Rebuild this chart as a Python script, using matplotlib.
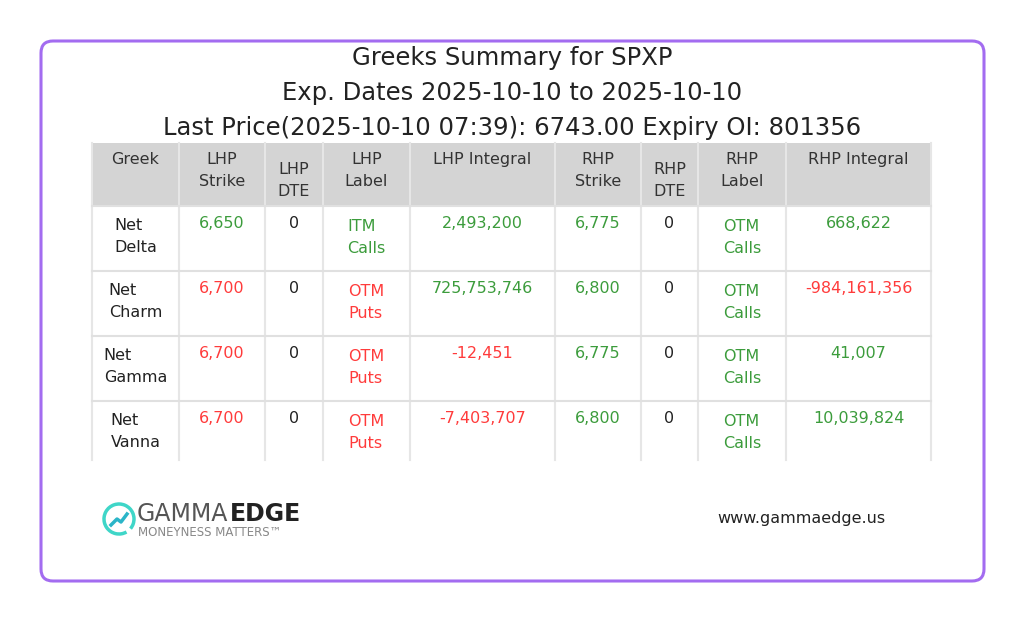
import matplotlib
matplotlib.use("Agg")
import matplotlib.pyplot as plt
from matplotlib.patches import FancyBboxPatch, Rectangle, Arc

title_lines = ["Greeks Summary for SPXP", "Exp. Dates 2025-10-10 to 2025-10-10",
               "Last Price(2025-10-10 07:39): 6743.00 Expiry OI: 801356"]
headers = ["Greek", "LHP\nStrike", "LHP\nDTE", "LHP\nLabel", "LHP Integral",
           "RHP\nStrike", "RHP\nDTE", "RHP\nLabel", "RHP Integral"]
greeks = ["Net\nDelta", "Net\nCharm", "Net\nGamma", "Net\nVanna"]
lhp_strike = ["6,650", "6,700", "6,700", "6,700"]
lhp_dte = ["0", "0", "0", "0"]
lhp_label = ["ITM\nCalls", "OTM\nPuts", "OTM\nPuts", "OTM\nPuts"]
lhp_integral = ["2,493,200", "725,753,746", "-12,451", "-7,403,707"]
rhp_strike = ["6,775", "6,800", "6,775", "6,800"]
rhp_dte = ["0", "0", "0", "0"]
rhp_label = ["OTM\nCalls", "OTM\nCalls", "OTM\nCalls", "OTM\nCalls"]
rhp_integral = ["668,622", "-984,161,356", "41,007", "10,039,824"]
lhp_col = ["g", "r", "r", "r"]
lhp_int_col = ["g", "g", "r", "r"]
rhp_int_col = ["g", "r", "g", "g"]

GREEN = "#3c9c3c"; RED = "#ff3b3b"; BLACK = "#222222"
cmap = {"g": GREEN, "r": RED}

fig = plt.figure(figsize=(10.24, 6.21), dpi=100)
ax = fig.add_axes([0, 0, 1, 1])
ax.set_xlim(0, 1024); ax.set_ylim(621, 0); ax.axis("off")

ax.add_patch(FancyBboxPatch((41, 41), 943, 540, boxstyle="round,pad=0,rounding_size=12",
                            fc="white", ec="#a36cf0", lw=2.2))
for i, t in enumerate(title_lines):
    ax.text(512, 58 + 35 * i, t, ha="center", va="center", fontsize=17.5, color=BLACK)

xs = [92, 179, 265, 323, 410, 555, 641, 698, 786, 931]
ys = [143, 206, 271, 336, 401, 460]
ax.add_patch(Rectangle((xs[0], ys[0]), xs[-1] - xs[0], ys[1] - ys[0], fc="#d4d4d4", ec="none"))
for x in xs:
    ax.plot([x, x], [ys[0], ys[-1]], color="#e6e6e6", lw=1.5)
for y in ys[1:-1]:
    ax.plot([xs[0], xs[-1]], [y, y], color="#e0e0e0", lw=1.5)

fs = 11.5
ls = 1.55
for j, h in enumerate(headers):
    cx = (xs[j] + xs[j + 1]) / 2
    top = ys[0] + 9
    if j in (2, 6):
        top += 10
    ax.text(cx, top, h, ha="center", va="top", fontsize=fs, color="#333333", linespacing=ls)

cols = [greeks, lhp_strike, lhp_dte, lhp_label, lhp_integral, rhp_strike, rhp_dte, rhp_label, rhp_integral]
for i in range(4):
    colors = [BLACK, cmap[lhp_col[i]], BLACK, cmap[lhp_col[i]], cmap[lhp_int_col[i]],
              GREEN, BLACK, GREEN, cmap[rhp_int_col[i]]]
    for j, c in enumerate(cols):
        cx = (xs[j] + xs[j + 1]) / 2
        off = 13 if "\n" in c[i] and j in (3, 7) else 10
        if j == 0:
            off = 12
        ax.text(cx, ys[i + 1] + off, c[i], ha="center", va="top", multialignment="left",
                fontsize=fs, color=colors[j], linespacing=ls)

# logo
ax.add_patch(Arc((119, 519), 30, 30, theta1=60, theta2=400, color="#3fd6c8", lw=2.5))
ax.plot([111, 117, 121, 127], [525, 519, 522, 514], color="#2bb5c8", lw=2.5)
t1 = ax.text(137, 514, "GAMMA", fontsize=17, color="#555555", va="center", ha="left")
fig.canvas.draw()
bb = t1.get_window_extent(renderer=fig.canvas.get_renderer())
x_end = bb.x1
ax.text(x_end + 1, 514, "EDGE", fontsize=17, color="#222222", va="center", ha="left",
        fontweight="bold", transform=matplotlib.transforms.blended_transform_factory(
            matplotlib.transforms.IdentityTransform(), ax.transData))
ax.text(138, 532, "MONEYNESS MATTERS\u2122", fontsize=8.5, color="#888888", va="center", ha="left")
ax.text(885, 519, "www.gammaedge.us", fontsize=11.5, color=BLACK, va="center", ha="right")

fig.savefig("out.png", dpi=100)
